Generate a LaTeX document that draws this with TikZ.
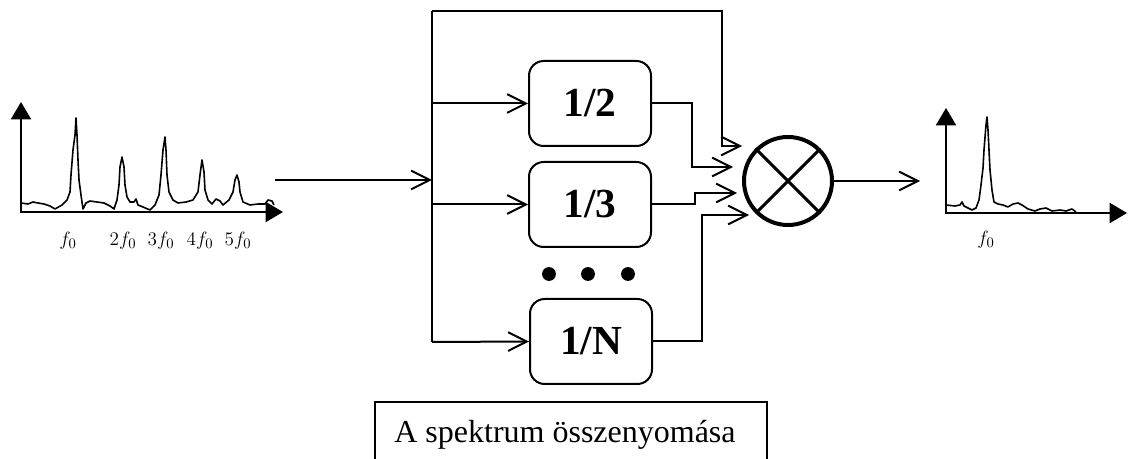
\documentclass[tikz,border=0pt]{standalone}
\usepackage{fontspec}
\setmainfont{Liberation Serif}
\usetikzlibrary{arrows.meta}

\begin{document}
\begin{tikzpicture}[x=0.75pt,y=-0.75pt,
  wire/.style={line width=1.5pt},
  feed/.style={wire,-{Straight Barb[length=14pt,width=14pt]}},
  axis/.style={line width=1.5pt,-{Triangle[length=13pt,width=15pt]}},
  spec/.style={line width=1.2pt,line join=round},
  ratiobox/.style={draw,line width=1.5pt,rounded corners=11pt,minimum width=91.5pt,
    minimum height=63.75pt,inner sep=0pt,font=\fontsize{31}{31}\selectfont\bfseries},
  freq/.style={font=\fontsize{15}{17}\selectfont}]
\useasboundingbox (0,0) rectangle (1128,459);

% Input spectrum
\draw[axis] (21,212) -- (21,102);
\draw[axis] (20,212) -- (283,212);
\draw[spec] (21,203) -- (28,204) -- (33,202) -- (38,203) -- (44,204) -- (50,206) -- (55,209)
  -- (62,205) -- (67,200) -- (70,192) -- (71,175) -- (73,150) -- (75,135) -- (76,118)
  -- (77,135) -- (78,160) -- (79,180) -- (81,195) -- (83,209) -- (86,203) -- (90,201)
  -- (97,202) -- (104,203) -- (110,206) -- (114,209) -- (117,200) -- (119,185) -- (120,167)
  -- (122,157) -- (124,167) -- (125,185) -- (127,197) -- (130,202) -- (134,202) -- (136,199)
  -- (138,205) -- (143,207) -- (150,210) -- (155,205) -- (159,195) -- (161,175) -- (163,150)
  -- (165,137) -- (166,150) -- (167,175) -- (169,192) -- (173,200) -- (178,203) -- (186,202)
  -- (193,200) -- (198,192) -- (200,175) -- (202,160) -- (204,172) -- (205,190) -- (208,200)
  -- (212,204) -- (216,199) -- (220,201) -- (223,205) -- (229,200) -- (233,192) -- (235,180)
  -- (237,175) -- (239,182) -- (240,192) -- (243,202) -- (250,205) -- (258,204) -- (265,204)
  -- (268,200) -- (272,201) -- (274,205);
\node[freq] (f1) at (68,241) {$f_0$};
\node[freq] (f2) at (123,241) {$2f_0$};
\node[freq] (f3) at (161,241) {$3f_0$};
\node[freq] (f4) at (200,241) {$4f_0$};
\node[freq] (f5) at (238,241) {$5f_0$};

% Compressed spectrum
\draw[axis] (946,213) -- (946,108);
\draw[axis] (945,213) -- (1127,213);
\draw[spec] (946,205) -- (955,206) -- (960,205) -- (962,202) -- (964,206) -- (972,210)
  -- (976,208) -- (979,200) -- (981,185) -- (983,168) -- (984,150) -- (986,125) -- (987,117)
  -- (988,130) -- (989,150) -- (990,170) -- (992,190) -- (994,202) -- (998,204) -- (1003,205)
  -- (1008,207) -- (1013,204) -- (1018,203) -- (1022,205) -- (1028,209) -- (1035,211)
  -- (1040,209) -- (1046,208) -- (1052,211) -- (1060,210) -- (1066,211) -- (1072,209)
  -- (1076,212);
\node[freq] (g1) at (986,240) {$f_0$};

% Divider boxes
\node[ratiobox] (div2) at (590,103.5) {1/2};
\node[ratiobox] (div3) at (590,204.5) {1/3};
\node[ratiobox] (divN) at (591,341.5) {1/N};
\fill (549,274) circle[radius=5.2pt] (588,274) circle[radius=5.2pt] (628,274) circle[radius=5.2pt];

% Multiplier
\node[draw,circle,line width=3pt,minimum size=66pt,inner sep=0pt] (mult) at (788,181) {};
\draw[line width=2.2pt,shorten <=2pt,shorten >=2pt] (mult.north west) -- (mult.south east)
  (mult.north east) -- (mult.south west);

% Signal distribution
\coordinate (src) at (275,180);
\coordinate (bus) at (432,180);
\coordinate (bustop) at (432,11);
\coordinate (busbot) at (432,342);
\draw[feed] (src) -- (bus);
\draw[wire] (bustop) -- (busbot);
\draw[feed] (bustop |- div2.west) -- (div2.west);
\draw[feed] (bustop |- div3.west) -- (div3.west);
\draw[feed] (busbot) -- (divN.west);

% Inputs of the multiplier
\coordinate (m1) at (742,146);
\coordinate (m2) at (733,167);
\coordinate (m3) at (737,193);
\coordinate (m4) at (749,215);
\draw[feed] (bustop) -| (722,146) -- (m1);
\draw[feed] (div2.east) -- (692,103.5) |- (m2);
\draw[feed] (div3.east) -- (695,204.5) |- (m3);
\draw[feed] (divN.east) -- (702,341.5) |- (m4);

% Output
\coordinate (out) at (920,181);
\draw[feed] (mult.east) -- (out);

% Caption
\draw[line width=1.3pt] (375,459) -- (375,402) -- (767,402) -- (767,459);
\node[font=\fontsize{24}{28}\selectfont,anchor=base] (caption) at (565,442) {A spektrum összenyomása};
\end{tikzpicture}
\end{document}
